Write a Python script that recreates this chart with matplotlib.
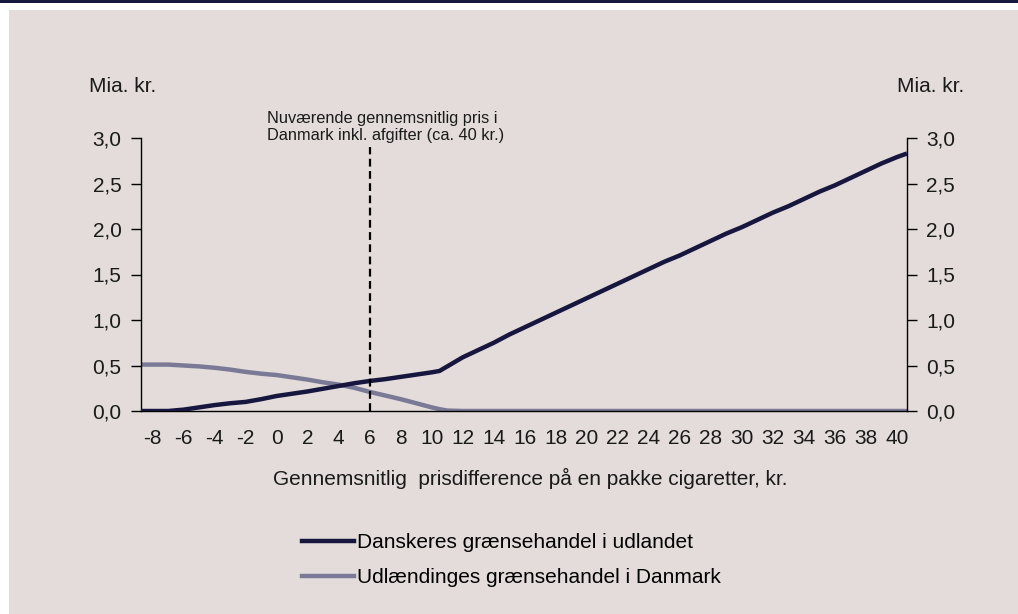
import matplotlib
matplotlib.use("Agg")
import matplotlib.pyplot as plt
from matplotlib.patches import Rectangle

# ---- data ----
price_diff = [-8.75, -8, -7, -6, -5, -4, -3, -2, -1, 0, 1, 2, 3, 4, 5, 6, 7, 8, 9, 10, 10.5,
              11, 12, 13, 14, 15, 16, 17, 18, 19, 20, 21, 22, 23, 24, 25, 26, 27, 28, 29, 30,
              31, 32, 33, 34, 35, 36, 37, 38, 39, 40, 40.65]
danish_abroad = [0.0, 0.0, 0.0, 0.015, 0.04, 0.065, 0.085, 0.10, 0.13, 0.165, 0.19, 0.215, 0.245,
                 0.275, 0.305, 0.33, 0.35, 0.375, 0.40, 0.425, 0.44,
                 0.49, 0.59, 0.67, 0.75, 0.84, 0.92, 1.00, 1.08, 1.16, 1.24, 1.32, 1.40, 1.48,
                 1.56, 1.64, 1.71, 1.79, 1.87, 1.95, 2.02, 2.10, 2.18, 2.25, 2.33, 2.41, 2.48,
                 2.56, 2.64, 2.72, 2.79, 2.83]
foreign_in_dk = [0.51, 0.51, 0.51, 0.50, 0.49, 0.475, 0.455, 0.43, 0.41, 0.395, 0.37, 0.345, 0.315,
                 0.29, 0.255, 0.21, 0.17, 0.13, 0.085, 0.04, 0.02,
                 0.005, 0, 0, 0, 0, 0, 0, 0, 0, 0, 0, 0, 0, 0, 0, 0, 0, 0, 0, 0,
                 0, 0, 0, 0, 0, 0, 0, 0, 0, 0, 0]
x_ticks = list(range(-8, 41, 2))
y_ticks = [0.0, 0.5, 1.0, 1.5, 2.0, 2.5, 3.0]
y_ticklabels = ["0,0", "0,5", "1,0", "1,5", "2,0", "2,5", "3,0"]
current_price_diff = 6
series_names = ["Danskeres grænsehandel i udlandet", "Udlændinges grænsehandel i Danmark"]
unit_label = "Mia. kr."
x_label = "Gennemsnitlig  prisdifference på en pakke cigaretter, kr."
note = "Nuværende gennemsnitlig pris i\nDanmark inkl. afgifter (ca. 40 kr.)"

# ---- style ----
BG = "#e3dcda"
NAVY = "#16163f"
GREY = "#7a7a97"
TXT = "#1a1a1a"
FONT = ["Liberation Sans", "DejaVu Sans"]
plt.rcParams["font.family"] = FONT
FS = 15

W, H = 1018, 614
fig = plt.figure(figsize=(W / 100, H / 100), dpi=100, facecolor="white")
fig.patches.append(Rectangle((9 / W, 0), 1 - 9 / W, (H - 10) / H, transform=fig.transFigure,
                             facecolor=BG, edgecolor="none", zorder=-10))
fig.patches.append(Rectangle((0, (H - 3) / H), 1, 3 / H, transform=fig.transFigure,
                             facecolor=NAVY, edgecolor="none", zorder=-10))

x0, x1 = 141, 907
y0, y1 = 411, 138
ax = fig.add_axes([x0 / W, 1 - y0 / H, (x1 - x0) / W, (y0 - y1) / H])
ax.set_facecolor("none")

ax.plot(price_diff, danish_abroad, color=NAVY, lw=3.2, solid_capstyle="butt", zorder=3)
ax.plot(price_diff, foreign_in_dk, color=GREY, lw=3.2, solid_capstyle="butt", zorder=2)
ax.plot([current_price_diff, current_price_diff], [0, 2.9], color="black", lw=1.6,
        linestyle=(0, (3.5, 2)), zorder=4)

ax.set_xlim(price_diff[0], price_diff[-1])
ax.set_ylim(0, 3)
ax.set_xticks(x_ticks)
ax.set_xticklabels([str(v) for v in x_ticks], fontsize=FS, color=TXT)
ax.tick_params(axis="x", length=0, pad=13)
ax.set_yticks(y_ticks)
ax.set_yticklabels(y_ticklabels, fontsize=FS, color=TXT)
ax.tick_params(axis="y", length=7, width=1, pad=7, direction="out", right=True,
               labelright=True, color="black")
ax.spines["top"].set_visible(False)
for s in ["left", "right", "bottom"]:
    ax.spines[s].set_linewidth(1)
    ax.spines[s].set_color("black")

fig.text(89 / W, 1 - 87 / H, unit_label, fontsize=FS, ha="left", va="center", color=TXT)
fig.text(964 / W, 1 - 87 / H, unit_label, fontsize=FS, ha="right", va="center", color=TXT)
fig.text(267 / W, 1 - 127 / H, note, fontsize=11.8, ha="left", va="center", color=TXT,
         linespacing=1.15)
fig.text(530 / W, 1 - 478 / H, x_label, fontsize=FS, ha="center", va="center", color=TXT)

h1, = ax.plot([], [], color=NAVY, lw=3.2)
h2, = ax.plot([], [], color=GREY, lw=3.2)
fig.legend([h1, h2], series_names, loc="center left", bbox_to_anchor=(302 / W, 1 - 560 / H),
           frameon=False, fontsize=FS, handlelength=2.5, handletextpad=0.15, labelspacing=0.75,
           borderaxespad=0, borderpad=0)

fig.savefig("out.png", dpi=100, facecolor=fig.get_facecolor())
